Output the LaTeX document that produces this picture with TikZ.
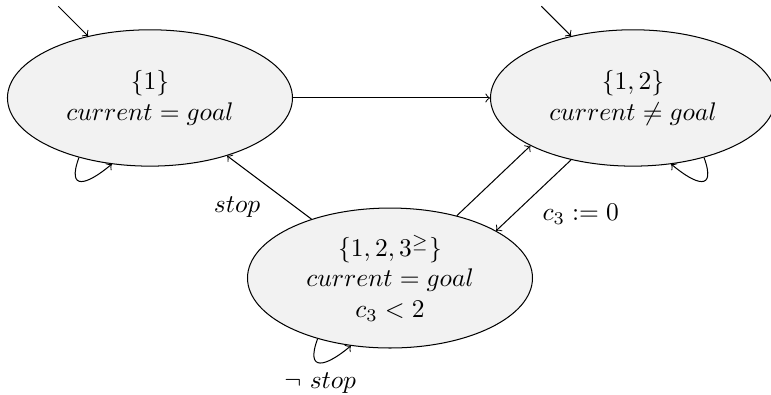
\documentclass[tikz,border=0pt]{standalone}
\usetikzlibrary{shapes.geometric,positioning}

\begin{document}
\begin{tikzpicture}[
  >=to,
  stateell/.style={draw, ellipse, fill=black!5, inner sep=0pt,
              minimum width=3.93cm, minimum height=1.88cm, align=center,
              font=\normalsize},
  arr/.style={->},
  lbl/.style={font=\normalsize},
]
\useasboundingbox (0,0) rectangle (10.632,5.447);

% === States ===
\node[stateell] (one) at (2.068,4.096) {$\{1\}$\\$current = goal$};
\node[stateell] (onetwo) at (8.729,4.096) {$\{1,2\}$\\$current \neq goal$};
\node[stateell, minimum height=1.93cm] (three) at (5.378,1.613)
  {$\{1,2,3^{\geq}\}$\\$current = goal$\\$c_3 < 2$};

% initial arrows
\coordinate (initone) at ([shift={(135:0.58)}]one.135);
\coordinate (initonetwo) at ([shift={(135:0.58)}]onetwo.135);
\draw[arr] (initone) -- (one.135);
\draw[arr] (initonetwo) -- (onetwo.135);

% Arrows
\draw[arr] (one) -- (onetwo);
\draw[arr] (three) -- node[below left, lbl] {$stop$} (one);
\draw[arr] (three.43) -- (onetwo.-155);
\draw[arr] (onetwo.-135) -- node[below right, lbl] {$c_3 := 0$} (three.24);

% self loops
\draw[arr] (one.-140) .. controls +(-110:0.5) and +(-140:0.45) .. (one.-120);
\draw[arr] (onetwo.-40) .. controls +(-70:0.5) and +(-40:0.45) .. (onetwo.-60);
\draw[arr] (three.-140) .. controls +(-110:0.5) and +(-140:0.45)
  .. node[below=0.3pt, lbl] {$\neg\ stop$} (three.-120);

\end{tikzpicture}
\end{document}
